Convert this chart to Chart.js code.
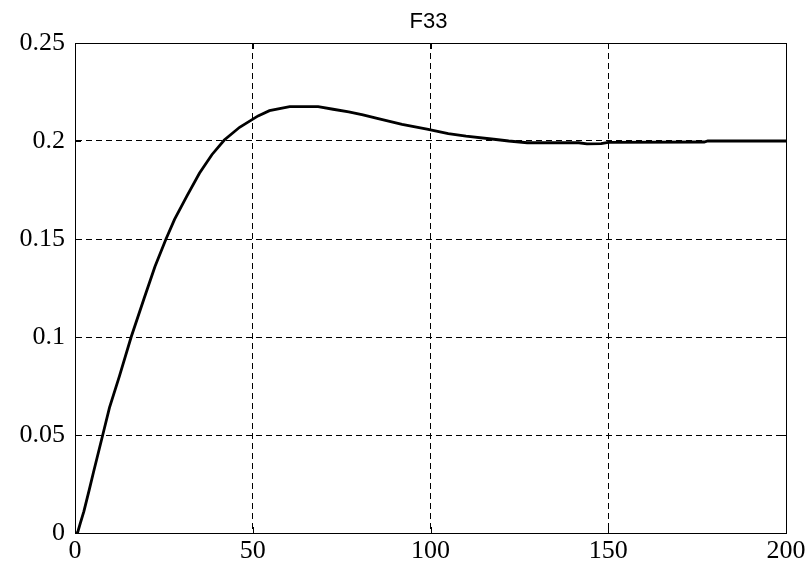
<!DOCTYPE html>
<html>
<head>
<meta charset="utf-8">
<script src="https://cdn.jsdelivr.net/npm/chart.js@4/dist/chart.umd.min.js"></script>
<style>
  html, body { margin: 0; padding: 0; background: #fff; }
  #wrap { width: 812px; height: 566px; }
</style>
</head>
<body>
<div id="wrap"><canvas id="myChart" width="812" height="566"></canvas></div>
<script>
// step response
const times  = [0, 0.7, 1.5, 2.5, 4, 5.2, 7.8, 9.7, 12.5, 15.8, 19.5, 22.5, 25.6, 28, 31.5, 35, 38.5, 42, 46.3,
                51.5, 54.7, 60.4, 68.4, 72.6, 77, 81, 85, 92, 99, 105, 110, 117.8, 122, 127.2, 141.7, 144,
                148, 150, 177, 178, 200];
const values = [0, 0, 0.005, 0.011, 0.022, 0.031, 0.05, 0.064, 0.08, 0.1, 0.12, 0.136, 0.15, 0.16, 0.172, 0.1835,
                0.193, 0.2005, 0.207, 0.2128, 0.2155, 0.2175, 0.2175, 0.2162, 0.2148, 0.2133, 0.2115, 0.2085,
                0.206, 0.2038, 0.2025, 0.2009, 0.2, 0.1991, 0.1991, 0.1985, 0.1987, 0.1993, 0.1995, 0.2, 0.2];
const xTicks = [0, 50, 100, 150, 200];
const yTicks = [0, 0.05, 0.1, 0.15, 0.2, 0.25];
const chartTitle = 'F33';

const points = times.map((t, i) => ({ x: t, y: values[i] }));

// box around the plot, small inward ticks and the title, like the matlab axes
const boxPlugin = {
    id: 'box',
    afterDraw(chart) {
        const { ctx, chartArea: a, scales } = chart;
        ctx.save();
        ctx.strokeStyle = '#000';
        ctx.lineWidth = 1;
        ctx.setLineDash([]);
        ctx.beginPath();
        xTicks.forEach(v => {
            const px = Math.round(scales.x.getPixelForValue(v)) + 0.5;
            ctx.moveTo(px, a.bottom); ctx.lineTo(px, a.bottom - 6);
            ctx.moveTo(px, a.top); ctx.lineTo(px, a.top + 6);
        });
        yTicks.forEach(v => {
            const py = Math.round(scales.y.getPixelForValue(v)) + 0.5;
            ctx.moveTo(a.left, py); ctx.lineTo(a.left + 6, py);
            ctx.moveTo(a.right, py); ctx.lineTo(a.right - 6, py);
        });
        ctx.stroke();
        ctx.strokeRect(Math.round(a.left) + 0.5, Math.round(a.top) + 0.5,
                       Math.round(a.right - a.left), Math.round(a.bottom - a.top));

        ctx.fillStyle = '#000';
        ctx.font = '22px "Liberation Sans", Arial, sans-serif';
        ctx.textAlign = 'center';
        ctx.textBaseline = 'alphabetic';
        ctx.fillText(chartTitle, (a.left + a.right) / 2 - 2, 28);
        ctx.restore();
    }
};

const tickFont = { family: '"Liberation Serif", "Times New Roman", serif', size: 26 };

const config = {
    type: 'line',
    data: {
        datasets: [{
            data: points,
            borderColor: '#000',
            borderWidth: 2.8,
            pointRadius: 0,
            tension: 0,
            fill: false,
        }],
    },
    options: {
        responsive: false,
        animation: false,
        layout: { padding: { left: 0, right: 26, top: 43, bottom: 0 } },
        plugins: {
            legend: { display: false },
            tooltip: { enabled: false },
            title: { display: false },
        },
        scales: {
            x: {
                type: 'linear',
                min: 0,
                max: 200,
                afterBuildTicks: s => { s.ticks = xTicks.map(v => ({ value: v })); },
                afterFit: s => { s.height = 33; },
                ticks: { color: '#000', font: tickFont, padding: 3, maxRotation: 0 },
                grid: { color: '#000', lineWidth: 1, tickLength: 0, drawTicks: false },
                border: { color: '#000', width: 1, dash: [6, 4] },
            },
            y: {
                type: 'linear',
                min: 0,
                max: 0.25,
                afterBuildTicks: s => { s.ticks = yTicks.map(v => ({ value: v })); },
                afterFit: s => { s.width = 75; },
                ticks: {
                    color: '#000',
                    font: tickFont,
                    padding: 10,
                    callback: v => String(+v.toFixed(2)),
                },
                grid: { color: '#000', lineWidth: 1, tickLength: 0, drawTicks: false },
                border: { color: '#000', width: 1, dash: [6, 4] },
            },
        },
    },
    plugins: [boxPlugin],
};

const ctx = document.getElementById('myChart').getContext('2d');
const myChart = new Chart(ctx, config);
</script>
</body>
</html>
